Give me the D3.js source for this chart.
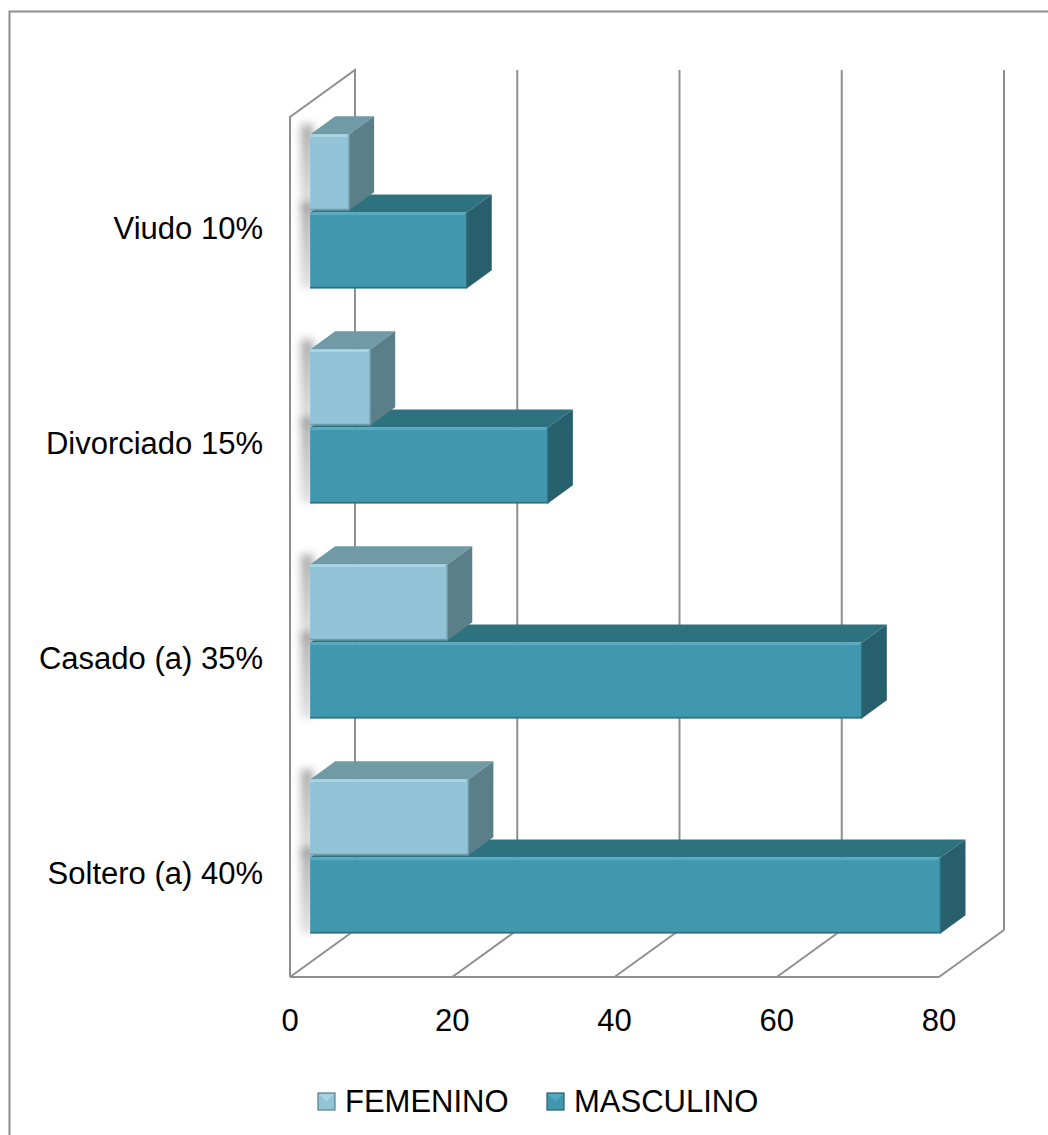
<!DOCTYPE html>
<html>
<head>
<meta charset="utf-8">
<script src="https://cdn.jsdelivr.net/npm/d3@7/dist/d3.min.js"></script>
<style>
  html, body { margin: 0; padding: 0; background: #fff; }
  svg { display: block; font-family: "Liberation Sans", Arial, sans-serif; }
</style>
</head>
<body>
<script>
// Estado civil por sexo (conteos)
const categories = ["Soltero (a) 40%", "Casado (a) 35%", "Divorciado 15%", "Viudo 10%"];
const femenino   = [19.5, 16.9, 7.4, 4.8];
const masculino  = [77.7, 68.0, 29.3, 19.3];
const seriesNames = ["FEMENINO", "MASCULINO"];
const xTicks = [0, 20, 40, 60, 80];

const W = 1048, H = 1135;

// Colour sets per series: front, top, side
const palette = {
  FEMENINO:  { front: "#92c3d6", top: "#6f9aa6", side: "#5b7f89", hi: "#a9d6e6", edge: "#6f9cab" },
  MASCULINO: { front: "#4197ae", top: "#2e727f", side: "#27606c", hi: "#55abc3", edge: "#2d6e7d" }
};

const svg = d3.select("body").append("svg")
  .attr("width", W).attr("height", H);

const defs = svg.append("defs");
defs.append("filter").attr("id", "soft")
  .attr("x", "-80%").attr("y", "-20%").attr("width", "260%").attr("height", "140%")
  .append("feGaussianBlur").attr("stdDeviation", 4);
const sg = defs.append("linearGradient").attr("id", "shadowFade")
  .attr("x1", 0).attr("y1", 0).attr("x2", 0).attr("y2", 1);
sg.append("stop").attr("offset", "0%").attr("stop-color", "#000").attr("stop-opacity", 0.35);
sg.append("stop").attr("offset", "100%").attr("stop-color", "#000").attr("stop-opacity", 0.12);

// Outer frame
svg.append("rect")
  .attr("x", 9.5).attr("y", 11.5).attr("width", 1100).attr("height", 1200)
  .attr("fill", "none").attr("stroke", "#8c8c8c").attr("stroke-width", 2);

// Scales: value axis on the front plane, category bands top to bottom
const x = d3.scaleLinear().domain([0, 80]).range([290, 939]);
const y = d3.scaleBand().domain(categories.slice().reverse())
  .range([117, 977]).paddingInner(0.284).paddingOuter(0.142);
const ySub = d3.scaleBand().domain(seriesNames)
  .range([0, y.bandwidth()]).paddingInner(0.03);

// Depth of the 3D box and of the bars inside it
const DX = 65, DY = -47;
const barFront = 0.31, barDepth = 0.385;
const ox = DX * barFront, oy = DY * barFront + 1.5;
const bdx = DX * barDepth, bdy = DY * barDepth;

const yTop = 117, yBot = 977;
const gridColor = "#8f8f8f";
const walls = svg.append("g").attr("fill", "none").attr("stroke", gridColor).attr("stroke-width", 2);

// Left wall
walls.append("path").attr("d", d3.line()([
  [x(0), yBot], [x(0), yTop], [x(0) + DX, yTop + DY], [x(0) + DX, yBot + DY]
]));
// Back wall gridlines
xTicks.slice(1).forEach(t => {
  walls.append("line")
    .attr("x1", x(t) + DX).attr("x2", x(t) + DX)
    .attr("y1", yTop + DY).attr("y2", yBot + DY);
});
// Floor: front edge and depth lines
walls.append("line").attr("x1", x(0)).attr("x2", x(80)).attr("y1", yBot).attr("y2", yBot);
xTicks.forEach(t => {
  walls.append("line")
    .attr("x1", x(t)).attr("y1", yBot)
    .attr("x2", x(t) + DX).attr("y2", yBot + DY);
});

// Bars
const bars = [];
categories.forEach((c, i) => {
  bars.push({ cat: c, s: "MASCULINO", v: masculino[i] });
  bars.push({ cat: c, s: "FEMENINO", v: femenino[i] });
});
// Draw lower bars first so upper bars cover their top faces
bars.sort((a, b) => (y(b.cat) + ySub(b.s)) - (y(a.cat) + ySub(a.s)));

const shadowG = svg.append("g");
const barG = svg.append("g");

bars.forEach(b => {
  const col = palette[b.s];
  const x0 = x(0) + ox, x1 = x(b.v) + ox;
  const yt = y(b.cat) + ySub(b.s) + oy, yb = yt + ySub.bandwidth();

  // soft shadow cast on the left wall
  shadowG.append("rect")
    .attr("x", x0 - 9).attr("y", yt - 10)
    .attr("width", 12).attr("height", yb - yt + 10)
    .attr("fill", "url(#shadowFade)")
    .attr("filter", "url(#soft)");

  const g = barG.append("g");
  // top face
  g.append("path").attr("fill", col.top).attr("d", d3.line()([
    [x0, yt], [x1, yt], [x1 + bdx, yt + bdy], [x0 + bdx, yt + bdy]
  ]) + "Z");
  // side face
  g.append("path").attr("fill", col.side).attr("d", d3.line()([
    [x1, yt], [x1 + bdx, yt + bdy], [x1 + bdx, yb + bdy], [x1, yb]
  ]) + "Z");
  // front face
  g.append("rect").attr("x", x0).attr("y", yt)
    .attr("width", x1 - x0).attr("height", yb - yt).attr("fill", col.front);
  // bevel highlight along top of front face
  g.append("rect").attr("x", x0).attr("y", yt)
    .attr("width", x1 - x0 - 2).attr("height", 2.5).attr("fill", col.hi);
  // darker rim along bottom
  g.append("rect").attr("x", x0).attr("y", yb - 1.5)
    .attr("width", x1 - x0).attr("height", 1.5).attr("fill", col.edge);
  // bevel on side edge
  g.append("line").attr("x1", x1).attr("y1", yt).attr("x2", x1).attr("y2", yb)
    .attr("stroke", col.edge).attr("stroke-width", 1.5);
});

// Category labels
svg.append("g").selectAll("text").data(categories).join("text")
  .attr("x", 263)
  .attr("y", d => y(d) + y.bandwidth() / 2 + 14)
  .attr("text-anchor", "end")
  .attr("font-size", 31)
  .attr("fill", "#000")
  .text(d => d);

// Value axis labels
svg.append("g").selectAll("text").data(xTicks).join("text")
  .attr("x", d => x(d))
  .attr("y", 1031)
  .attr("text-anchor", "middle")
  .attr("font-size", 31)
  .attr("fill", "#000")
  .text(d => d);

// Legend
const legendX = { FEMENINO: 318, MASCULINO: 547 };
const leg = svg.append("g");
seriesNames.forEach(s => {
  const col = palette[s];
  const lx = legendX[s], ly = 1093;
  leg.append("rect").attr("x", lx).attr("y", ly).attr("width", 17).attr("height", 17)
    .attr("fill", col.front).attr("stroke", col.side).attr("stroke-width", 1.2);
  leg.append("path").attr("fill", col.hi).attr("opacity", 0.9)
    .attr("d", d3.line()([[lx + 1, ly + 1], [lx + 16, ly + 1], [lx + 8.5, ly + 8.5]]) + "Z");
  leg.append("text").attr("x", lx + 27).attr("y", ly + 19)
    .attr("font-size", 31).attr("fill", "#000").text(s);
});
</script>
</body>
</html>
